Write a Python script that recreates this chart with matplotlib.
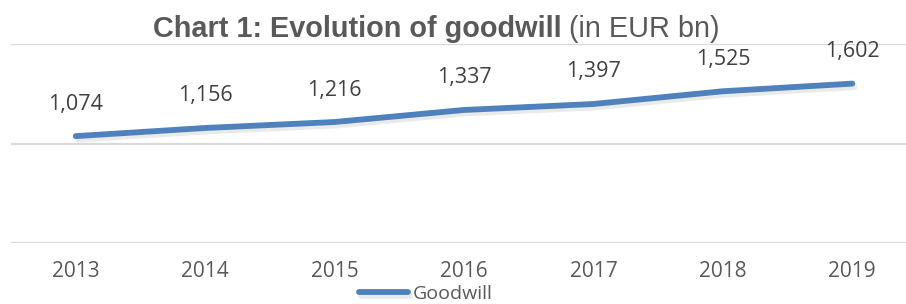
import matplotlib
matplotlib.use("Agg")
import matplotlib.pyplot as plt
import matplotlib.patheffects as pe
import numpy as np

years = ["2013", "2014", "2015", "2016", "2017", "2018", "2019"]
goodwill = [1074, 1156, 1216, 1337, 1397, 1525, 1602]
series_name = "Goodwill"

W, H = 906, 304
fig = plt.figure(figsize=(W / 100, H / 100), dpi=100)
ax = fig.add_axes([11 / W, 61 / H, 906 / W, 199 / H])

line_color = "#4f81bd"
x = np.arange(len(years))
ax.plot(x, goodwill, color=line_color, lw=4.2, solid_capstyle="round",
        solid_joinstyle="round", label=series_name,
        path_effects=[pe.SimpleLineShadow(offset=(1.5, -2.5), shadow_color="#999",
                                          alpha=0.2), pe.Normal()])

for xi, v in zip(x, goodwill):
    ax.annotate(f"{v:,}", (xi, v), xytext=(0, 32), textcoords="offset pixels",
                ha="center", va="center", fontsize=15.5, color="#404040",
                family="Open Sans")

ax.set_xlim(-0.5, 6.5)
ax.set_ylim(0, 2000)
ax.set_yticks([0, 1000, 2000])
ax.set_yticklabels([])
ax.grid(axis="y", color="#d9d9d9", lw=1.6)
ax.tick_params(axis="both", length=0)
ax.tick_params(axis="x", pad=13, labelsize=15, labelcolor="#595959")
ax.set_xticks(x)
ax.set_xticklabels(years, family="Open Sans")
for s in ax.spines.values():
    s.set_visible(False)

# title: bold part + regular part
t1 = fig.text(153 / W, 1 - 37 / H, "Chart 1: Evolution of goodwill", fontsize=20.8,
              fontweight="bold", color="#595959", family="Liberation Sans",
              ha="left", va="baseline")
fig.canvas.draw()
bb = t1.get_window_extent()
fig.text((bb.x1 + 7) / W, 1 - 37 / H, "(in EUR bn)", fontsize=20.8,
         color="#595959", family="Liberation Sans", ha="left", va="baseline")

leg = fig.legend(loc="center left", bbox_to_anchor=(359 / W, 1 - 294 / H),
                 frameon=False, borderpad=0, borderaxespad=0,
                 handlelength=2.5, handletextpad=0.25,
                 prop={"family": "Open Sans", "size": 14})
for t in leg.get_texts():
    t.set_color("#595959")

fig.savefig("out.png", dpi=100)
